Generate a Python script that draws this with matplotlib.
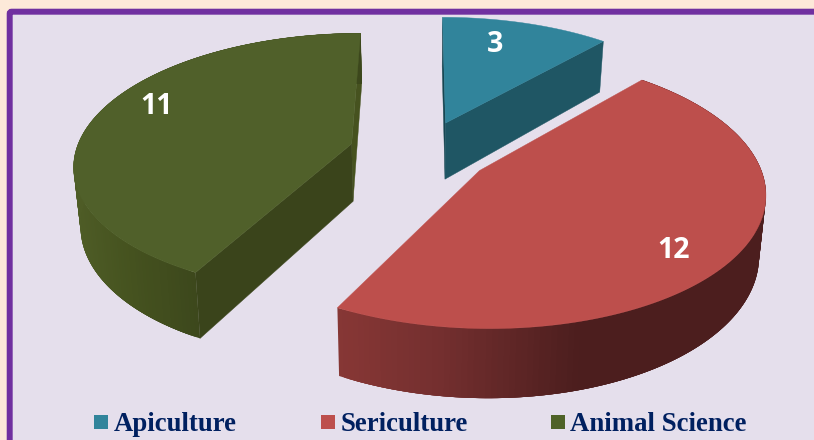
import numpy as np
import matplotlib
matplotlib.use("Agg")
import matplotlib.pyplot as plt
from matplotlib.patches import Polygon, Rectangle, FancyBboxPatch

categories = ["Apiculture", "Sericulture", "Animal Science"]
values = [3, 12, 11]
top_colors = ["#31849B", "#BD4F4C", "#50602A"]
explode = [0.248, 0.248, 0.265]
legend_x = [94, 321, 551]
label_pos = [(495, 44), (674, 251), (157, 107)]

# perspective of the disc
X0, Y0 = 422, 152
A, B = 276, 129
K = 0.146
THICK = 58
SHRINK = 0.98


def project(u, v, lower=False):
    w = 1 + K * v
    if lower:
        return X0 + SHRINK * A * u / w, Y0 - B * v / w + THICK / w
    return X0 + A * u / w, Y0 - B * v / w


def face(ax, xs, ys, color, z=2, lw=0.3):
    ax.add_patch(Polygon(np.column_stack([xs, ys]), closed=True, fc=color, ec=color if lw else "none", lw=lw, zorder=z))


def wall(ax, u, v, x_stops, colors):
    # outer rim split in overlapping strips so the shade can change along it
    xt, yt = project(u, v)
    xb, yb = project(u, v, lower=True)
    rgb = np.array([matplotlib.colors.to_rgb(c) for c in colors])
    n = len(u)
    for i in range(n - 1):
        k = min(i + 4, n - 1)
        mid = (xt[i] + xt[i + 1]) / 2
        col = [np.interp(mid, x_stops, rgb[:, j]) for j in range(3)]
        face(ax, np.r_[xt[i:k + 1], xb[i:k + 1][::-1]], np.r_[yt[i:k + 1], yb[i:k + 1][::-1]], col, lw=0)


def cut(ax, apex, rim, color):
    xt, yt = project(np.array([apex[0], rim[0]]), np.array([apex[1], rim[1]]))
    xb, yb = project(np.array([apex[0], rim[0]]), np.array([apex[1], rim[1]]), lower=True)
    face(ax, [xt[0], xt[1], xb[1], xb[0]], [yt[0], yt[1], yb[1], yb[0]], color)


fig = plt.figure(figsize=(8.14, 4.40), dpi=100, facecolor="#FDE9D9")
ax = fig.add_axes([0, 0, 1, 1])
ax.set_xlim(0, 814)
ax.set_ylim(440, 0)
ax.axis("off")

ax.add_patch(FancyBboxPatch((9.7, 11.7), 830, 450, boxstyle="round,pad=0,rounding_size=2",
                            fc="#E5DFEC", ec="#7030A0", lw=4.3, zorder=1))

angles = np.cumsum([0] + values) / sum(values) * 2 * np.pi
for i, name in enumerate(categories):
    a0, a1 = angles[i], angles[i + 1]
    mid = (a0 + a1) / 2
    ou, ov = explode[i] * np.sin(mid), explode[i] * np.cos(mid)
    th = np.linspace(a0, a1, 160)
    u = ou + np.sin(th)
    v = ov + np.cos(th)
    rim0 = (u[0], v[0])
    rim1 = (u[-1], v[-1])
    apex = (ou, ov)

    if i == 0:
        cut(ax, apex, rim0, "#174652")
        cut(ax, apex, rim1, "#1F5664")
    elif i == 1:
        wall(ax, u[::-1], v[::-1], [337, 440, 580], ["#873735", "#742F2F", "#4C1E1E"])
    else:
        cut(ax, apex, rim1, "#46521F")
        wall(ax, u, v, [75, 130, 200], ["#4E5C26", "#45521F", "#3C471C"])
        cut(ax, apex, rim0, "#3A441B")

    xt, yt = project(np.r_[ou, u], np.r_[ov, v])
    face(ax, xt, yt, top_colors[i], z=3)

    ax.text(label_pos[i][0], label_pos[i][1], str(values[i]), color="white", family="Open Sans",
            fontweight="bold", fontsize=20.5, ha="center", va="center", zorder=5)

    ax.add_patch(Rectangle((legend_x[i], 415), 14, 14, fc=top_colors[i] if i != 2 else "#4F6228", ec="none", zorder=4))
    ax.text(legend_x[i] + 19.5, 431, name, color="#002060", family="Liberation Serif",
            fontweight="bold", fontsize=19.3, ha="left", va="baseline", zorder=5)

fig.savefig("out.png", dpi=100, facecolor=fig.get_facecolor())
